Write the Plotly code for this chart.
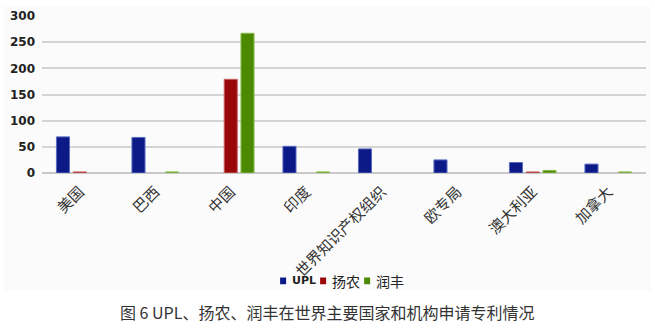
import plotly.graph_objects as go

categories = ["美国", "巴西", "中国", "印度", "世界知识产权组织", "欧专局", "澳大利亚", "加拿大"]
upl = [69, 68, 0, 51, 46, 25, 20, 17]
yangnong = [2, 0, 179, 0, 0, 0, 2, 0]
runfeng = [0, 2, 267, 2, 0, 0, 5, 2]
names = ["UPL", "扬农", "润丰"]
colors = ["#0b1a87", "#990808", "#4b8a00"]
line_colors = ["#5a6cc0", "#c86060", "#8cbc50"]
caption = "图 6 UPL、扬农、润丰在世界主要国家和机构申请专利情况"

L, W, T, H = 42, 603.75, 10, 163


def px(x):
    return (x - L) / W


def py(y):
    return (T + H - y) / H


fig = go.Figure()
for name, vals, col, lc in zip(names, [upl, yangnong, runfeng], colors, line_colors):
    fig.add_trace(go.Bar(x=categories, y=vals, name=name, showlegend=False,
                         marker=dict(color=col,
                                     line=dict(color=lc, width=[1 if v > 0 else 0 for v in vals]))))

annotations = [dict(text=caption, xref="paper", yref="paper", x=px(327), y=py(317),
                    xanchor="center", yanchor="middle", showarrow=False,
                    font=dict(size=16, color="#333", family="Noto Sans CJK SC, sans-serif"))]

shapes = [dict(type="rect", xref="paper", yref="paper",
               x0=px(4), x1=px(651), y0=py(295), y1=py(0),
               fillcolor="#fbfbfb", line=dict(width=0), layer="below")]

# legend built from squares + text items
leg_sq_x = [280, 320, 364]
leg_tx_x = [290, 330, 374]
leg_y = 285
for name, col, sx, tx in zip(names, colors, leg_sq_x, leg_tx_x):
    shapes.append(dict(type="rect", xref="paper", yref="paper",
                       x0=px(sx), x1=px(sx + 6), y0=py(leg_y + 3.5), y1=py(leg_y - 3.5),
                       fillcolor=col, line=dict(width=0)))
    bold = name == "UPL"
    annotations.append(dict(text=name, xref="paper", yref="paper", x=px(tx), y=py(leg_y),
                            xanchor="left", yanchor="middle", showarrow=False,
                            font=dict(size=11 if bold else 14, color="#222",
                                      weight="bold" if bold else "normal",
                                      family="DejaVu Sans, Noto Sans CJK SC" if bold
                                      else "Noto Sans CJK SC, sans-serif")))

fig.update_layout(
    width=655, height=332,
    margin=dict(l=L, r=655 - L - W, t=T, b=332 - T - H),
    paper_bgcolor="white", plot_bgcolor="rgba(0,0,0,0)",
    barmode="group", bargap=0.334, bargroupgap=0.22,
    font=dict(family="Noto Sans CJK SC, DejaVu Sans, sans-serif", color="#222"),
    showlegend=False,
    xaxis=dict(tickangle=-45, tickfont=dict(size=15, color="#333"),
               showgrid=False, showline=False, ticks="", ticklabelstandoff=6),
    yaxis=dict(range=[0, 300], dtick=50, gridcolor="#d4d4d4", gridwidth=1.5,
               zeroline=True, zerolinecolor="#c8c8c8", zerolinewidth=1.5,
               tickfont=dict(size=12, color="#222", family="DejaVu Sans", weight="bold"),
               ticks="", ticklabelstandoff=6),
    shapes=shapes,
    annotations=annotations,
)
fig.write_html("out.html")
